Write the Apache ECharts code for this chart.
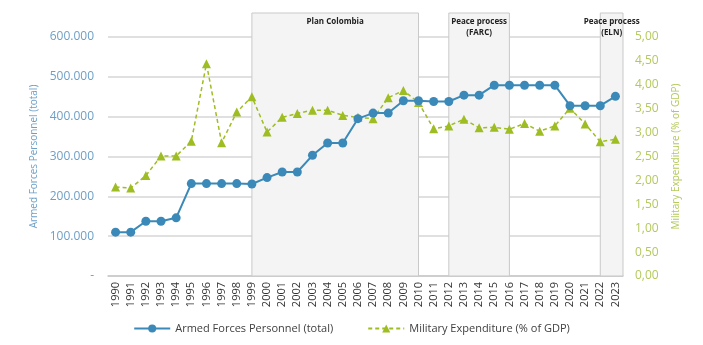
<!DOCTYPE html>
<html>
<head>
<meta charset="utf-8">
<script src="https://cdn.jsdelivr.net/npm/echarts@6/dist/echarts.min.js"></script>
<style>
  html, body { margin: 0; padding: 0; background: #fff; }
  #chart { width: 703px; height: 345px; }
</style>
</head>
<body>
<div id="chart"></div>
<script>
const years = ['1990','1991','1992','1993','1994','1995','1996','1997','1998','1999',
  '2000','2001','2002','2003','2004','2005','2006','2007','2008','2009',
  '2010','2011','2012','2013','2014','2015','2016','2017','2018','2019',
  '2020','2021','2022','2023'];

const personnel = [110000, 110000, 137500, 137500, 146000, 232000, 232000, 232000, 232000, 231000,
  247000, 261000, 261000, 303000, 334000, 334000, 395000, 409000, 409000, 440000,
  440000, 438000, 438000, 454000, 454000, 479000, 479000, 479000, 479000, 479000,
  427500, 427500, 427500, 451000];

const milexp = [1.86, 1.84, 2.10, 2.51, 2.51, 2.82, 4.44, 2.79, 3.43, 3.75,
  3.01, 3.32, 3.40, 3.47, 3.47, 3.36, 3.32, 3.29, 3.73, 3.88,
  3.63, 3.08, 3.14, 3.28, 3.10, 3.11, 3.07, 3.19, 3.03, 3.14,
  3.51, 3.18, 2.81, 2.86];

// shaded periods: label, first year, last year (null = to the end of the plot)
const periods = [
  ['Plan Colombia', '1999', '2010'],
  ['Peace process\n(FARC)', '2012', '2016'],
  ['Peace process\n(ELN)', '2022', null]
];

const blue = '#3b89b8';
const green = '#9dbd22';
const font = 'Open Sans';

const gridTop = 37, gridBottom = 69, gridLeft = 108, gridRight = 80;

var chart = echarts.init(document.getElementById('chart'));

const option = {
  animation: false,
  textStyle: { fontFamily: font },
  grid: { left: gridLeft, right: gridRight, top: gridTop, bottom: gridBottom },
  legend: {
    bottom: 6,
    left: 'center',
    itemWidth: 36,
    itemHeight: 10,
    itemGap: 34,
    textStyle: { fontFamily: font, fontSize: 11, color: '#404040' },
    data: ['Armed Forces Personnel (total)', 'Military Expenditure (% of GDP)']
  },
  xAxis: {
    type: 'category',
    data: years,
    axisLine: { lineStyle: { color: '#c8c8c8', width: 1.5 } },
    axisTick: { show: false },
    axisLabel: { rotate: 90, fontSize: 11, color: '#333', margin: 6, fontFamily: font }
  },
  yAxis: [
    {
      type: 'value',
      min: 0, max: 600000, interval: 100000,
      name: 'Armed Forces Personnel (total)',
      nameLocation: 'middle',
      nameGap: 68,
      nameTextStyle: { color: '#6d9fc6', fontSize: 10, fontFamily: font },
      axisLine: { show: false },
      axisTick: { show: false },
      splitLine: { lineStyle: { color: '#d6d6d6', width: 1.5 } },
      axisLabel: {
        color: '#6d9fc6', fontSize: 12, margin: 14, fontFamily: font,
        formatter: function (v) { return v === 0 ? '-' : v.toLocaleString('de-DE'); }
      }
    },
    {
      type: 'value',
      min: 0, max: 5, interval: 0.5,
      name: 'Military Expenditure (% of GDP)',
      nameLocation: 'middle',
      nameGap: 48,
      nameRotate: 90,
      nameTextStyle: { color: '#b3c95c', fontSize: 10, fontFamily: font },
      axisLine: { show: false },
      axisTick: { show: false },
      splitLine: { show: false },
      axisLabel: {
        color: '#b3c95c', fontSize: 12, margin: 12, fontFamily: font,
        formatter: function (v) { return v.toFixed(2).replace('.', ','); }
      }
    }
  ],
  series: [
    {
      name: 'Armed Forces Personnel (total)',
      type: 'line',
      yAxisIndex: 0,
      data: personnel,
      symbol: 'circle',
      symbolSize: 9,
      z: 5,
      itemStyle: { color: blue },
      lineStyle: { color: blue, width: 2 }
    },
    {
      name: 'Military Expenditure (% of GDP)',
      type: 'line',
      yAxisIndex: 1,
      data: milexp,
      symbol: 'triangle',
      symbolSize: 9,
      z: 4,
      itemStyle: { color: green },
      lineStyle: { color: green, width: 1.5, type: [4, 3] }
    }
  ]
};

chart.setOption(option);

// shaded period boxes placed with the category axis scale
const plotRight = 703 - gridRight;
const plotBottom = 345 - gridBottom;
const boxTop = 13;
const elements = [];
periods.forEach(function (p) {
  const x0 = chart.convertToPixel({ xAxisIndex: 0 }, p[1]);
  const x1 = p[2] ? chart.convertToPixel({ xAxisIndex: 0 }, p[2]) : plotRight;
  elements.push({
    type: 'rect',
    z: 1,
    shape: { x: x0, y: boxTop, width: x1 - x0, height: plotBottom - boxTop },
    style: { fill: '#f4f4f4', stroke: '#c9c9c9', lineWidth: 1 }
  });
  elements.push({
    type: 'text',
    z: 3,
    x: (x0 + x1) / 2,
    y: boxTop + 3,
    style: {
      text: p[0], fill: '#222', font: 'bold 8px ' + font,
      align: 'center', verticalAlign: 'top', lineHeight: 11
    }
  });
});
chart.setOption({ graphic: { elements: elements } });
</script>
</body>
</html>
